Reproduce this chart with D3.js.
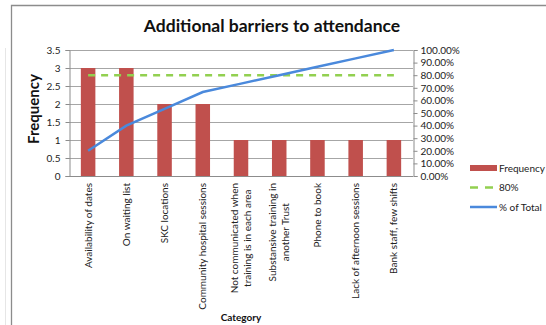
<!DOCTYPE html>
<html>
<head>
<meta charset="utf-8">
<script src="https://cdn.jsdelivr.net/npm/d3@7"></script>
<style>
  html, body { margin: 0; padding: 0; background: #fff; }
  svg { display: block; font-family: Lato, "Open Sans", sans-serif; }
</style>
</head>
<body>
<svg id="chart" width="546" height="325"></svg>
<script>
// Pareto data: barriers to attendance
const categories = [
  ["Availability of dates"],
  ["On waiting list"],
  ["SKC locations"],
  ["Community hospital sessions"],
  ["Not communicated when", "training is in each area"],
  ["Substansive training in", "another Trust"],
  ["Phone to book"],
  ["Lack of afternoon sessions"],
  ["Bank staff, few shifts"]
];
const frequency = [3, 3, 2, 2, 1, 1, 1, 1, 1];
const threshold = [0.8, 0.8, 0.8, 0.8, 0.8, 0.8, 0.8, 0.8, 0.8];
const leftTicks = [0, 0.5, 1, 1.5, 2, 2.5, 3, 3.5];
const rightTicks = [0, 0.1, 0.2, 0.3, 0.4, 0.5, 0.6, 0.7, 0.8, 0.9, 1.0];

const total = d3.sum(frequency);
const cumulative = d3.cumsum(frequency).map(v => v / total);

const svg = d3.select("#chart");
const m = { left: 69, right: 413, top: 50, bottom: 176 };

// outer chart frame
svg.append("line").attr("x1", 5.5).attr("x2", 5.5).attr("y1", 48).attr("y2", 325)
  .attr("stroke", "#e6e6e6");
svg.append("path").attr("d", "M11.5,325V5.5H546").attr("fill", "none")
  .attr("stroke", "#8c8c8c").attr("stroke-width", 1.3);

const x = d3.scaleBand().domain(d3.range(categories.length)).range([m.left, m.right]).padding(0);
const yL = d3.scaleLinear().domain([0, 3.5]).range([m.bottom, m.top]);
const yR = d3.scaleLinear().domain([0, 1]).range([m.bottom, m.top]);

// gridlines
svg.append("g").selectAll("line").data(leftTicks).join("line")
  .attr("x1", m.left).attr("x2", m.right)
  .attr("y1", d => Math.round(yL(d)) + 0.5).attr("y2", d => Math.round(yL(d)) + 0.5)
  .attr("stroke", "#a6a6a6").attr("stroke-width", 1);

// bars
const bw = x.bandwidth() * 0.38;
svg.append("g").selectAll("rect").data(frequency).join("rect")
  .attr("x", (d, i) => x(i) + (x.bandwidth() - bw) / 2)
  .attr("width", bw)
  .attr("y", d => yL(d))
  .attr("height", d => yL(0) - yL(d))
  .attr("fill", "#c0504d");

// axes
const axL = svg.append("g").attr("transform", `translate(${m.left + 0.5},0)`)
  .call(d3.axisLeft(yL).tickValues(leftTicks).tickSize(4).tickPadding(5)
    .tickFormat(d3.format("~g")));
const axR = svg.append("g").attr("transform", `translate(${m.right + 0.5},0)`)
  .call(d3.axisRight(yR).tickValues(rightTicks).tickSize(4).tickPadding(3)
    .tickFormat(d3.format(".2%")));
for (const ax of [axL, axR]) {
  ax.select(".domain").attr("stroke", "#8c8c8c");
  ax.selectAll(".tick line").attr("stroke", "#8c8c8c");
  ax.selectAll("text").attr("font-family", "Lato, sans-serif").attr("font-size", 10)
    .attr("fill", "#222");
}
// bottom axis line
svg.append("line").attr("x1", m.left).attr("x2", m.right)
  .attr("y1", m.bottom + 0.5).attr("y2", m.bottom + 0.5).attr("stroke", "#8c8c8c");

// 80% threshold
const cx = i => x(i) + x.bandwidth() / 2;
svg.append("path")
  .attr("d", d3.line().x((d, i) => cx(i)).y(d => yR(d))(threshold))
  .attr("fill", "none").attr("stroke", "#92d050").attr("stroke-width", 2.5)
  .attr("stroke-dasharray", "7,6");

// cumulative percentage
svg.append("path")
  .attr("d", d3.line().x((d, i) => cx(i)).y(d => yR(d))(cumulative))
  .attr("fill", "none").attr("stroke", "#4a89dc").attr("stroke-width", 2.5);

// category labels, rotated
const lab = svg.append("g").selectAll("text").data(categories).join("text")
  .attr("transform", (d, i) => `translate(${cx(i)},${m.bottom + 7}) rotate(-90)`)
  .attr("text-anchor", "end")
  .attr("font-size", 10).attr("fill", "#222");
lab.each(function(lines) {
  const t = d3.select(this);
  const n = lines.length;
  lines.forEach((s, k) => {
    t.append("tspan").attr("x", 0)
      .attr("y", (k - (n - 1) / 2) * 13 + 3.5)
      .text(s);
  });
});
// center multi-line labels within their block
lab.filter(d => d.length > 1).each(function(lines) {
  const t = d3.select(this);
  const widths = [];
  t.selectAll("tspan").each(function() { widths.push(this.getComputedTextLength()); });
  const w = d3.max(widths);
  t.selectAll("tspan").attr("x", (d, k) => -(w - widths[k]) / 2);
});

// titles
svg.append("text").attr("x", 272).attr("y", 32).attr("text-anchor", "middle")
  .attr("font-size", 17.5).attr("font-weight", "bold").attr("fill", "#111")
  .text("Additional barriers to attendance");
svg.append("text").attr("transform", "translate(39,109) rotate(-90)")
  .attr("text-anchor", "middle").attr("font-size", 15).attr("font-weight", "bold")
  .attr("fill", "#111").text("Frequency");
svg.append("text").attr("x", 241).attr("y", 321).attr("text-anchor", "middle")
  .attr("font-size", 10).attr("font-weight", "bold").attr("fill", "#111")
  .text("Category");

// legend
const legend = [
  { name: "Frequency", type: "bar", color: "#c0504d" },
  { name: "80%", type: "dash", color: "#92d050" },
  { name: "% of Total", type: "line", color: "#4a89dc" }
];
const lg = svg.append("g").attr("transform", "translate(470,168)");
legend.forEach((d, i) => {
  const g = lg.append("g").attr("transform", `translate(0,${i * 19.5})`);
  if (d.type === "bar") {
    g.append("rect").attr("x", 0).attr("y", -3).attr("width", 27).attr("height", 6).attr("fill", d.color);
  } else {
    g.append("line").attr("x1", 0).attr("x2", 27).attr("y1", 0).attr("y2", 0)
      .attr("stroke", d.color).attr("stroke-width", 2.5)
      .attr("stroke-dasharray", d.type === "dash" ? "8,7" : null);
  }
  g.append("text").attr("x", 29).attr("y", 3.5).attr("font-size", 10).attr("fill", "#222").text(d.name);
});
</script>
</body>
</html>
